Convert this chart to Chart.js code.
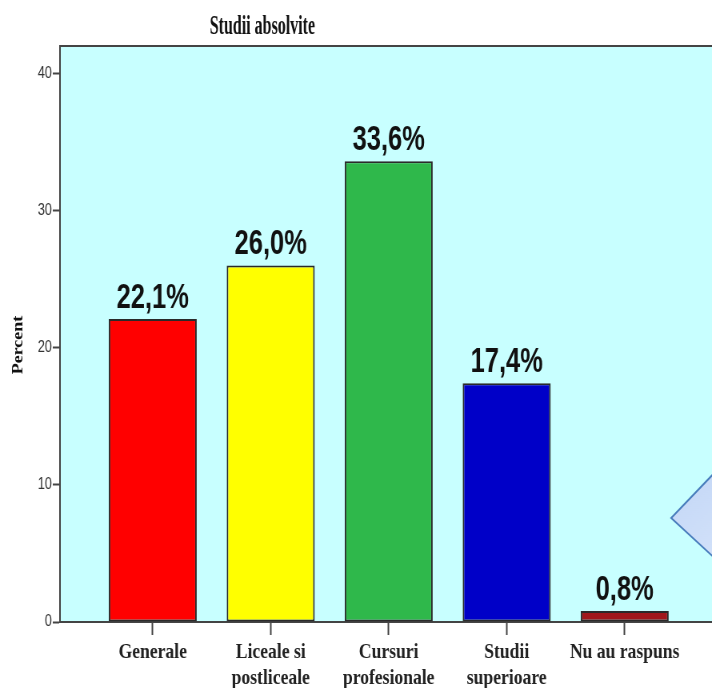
<!DOCTYPE html>
<html>
<head>
<meta charset="utf-8">
<script src="https://cdn.jsdelivr.net/npm/chart.js@4"></script>
<style>
  html, body { margin: 0; padding: 0; background: #fff; overflow: hidden; }
  #chart { display: block; }
</style>
</head>
<body>
<!-- the source picture is squeezed sideways, so the canvas is drawn wider and shown at 712px -->
<canvas id="chart" width="890" height="688" style="width:712px;height:688px"></canvas>
<script>
// data
const categories = [
  "Generale",
  ["Liceale si", "postliceale"],
  ["Cursuri", "profesionale"],
  ["Studii", "superioare"],
  "Nu au raspuns",
];
const percents = [22.1, 26.0, 33.6, 17.4, 0.8];
const barColors = ["#ff0000", "#ffff00", "#2fb84b", "#0000c8", "#a0171b"];
const yTicks = [0, 10, 20, 30, 40];

// background of plot, top line, titles, value labels and the blue shape
const extras = {
  id: "extras",
  beforeDraw(chart) {
    const { ctx, chartArea: a } = chart;
    ctx.save();
    ctx.fillStyle = "#c8ffff";
    ctx.fillRect(a.left, a.top, a.right - a.left, a.bottom - a.top);
    ctx.strokeStyle = "#444";
    ctx.lineWidth = 2;
    ctx.beginPath();
    ctx.moveTo(a.left, a.top);
    ctx.lineTo(a.right, a.top);
    ctx.stroke();
    ctx.restore();
  },
  afterDraw(chart) {
    const { ctx } = chart;
    ctx.save();

    // title
    ctx.fillStyle = "#111";
    ctx.font = "bold 27px 'Liberation Serif', 'Times New Roman', serif";
    ctx.textAlign = "center";
    ctx.textBaseline = "alphabetic";
    ctx.save();
    ctx.translate(328, 34);
    ctx.scale(0.74, 1);
    ctx.fillText("Studii absolvite", 0, 0);
    ctx.restore();

    // y axis title
    ctx.save();
    ctx.font = "bold 18px 'Liberation Serif', 'Times New Roman', serif";
    ctx.translate(23, 345);
    ctx.rotate(-Math.PI / 2);
    ctx.textBaseline = "middle";
    ctx.fillText("Percent", 0, 0);
    ctx.restore();

    // value labels
    const meta = chart.getDatasetMeta(0);
    ctx.font = "bold 35px 'Liberation Sans', Arial, sans-serif";
    meta.data.forEach((bar, i) => {
      const txt = percents[i].toFixed(1).replace(".", ",") + "%";
      ctx.save();
      ctx.translate(bar.x, bar.y - 11);
      ctx.scale(0.91, 1);
      ctx.fillText(txt, 0, 0);
      ctx.restore();
    });

    // the blue diamond shape at the right edge
    const grad = ctx.createLinearGradient(839, 470, 900, 560);
    grad.addColorStop(0, "#c2d6f6");
    grad.addColorStop(1, "#d3e2fa");
    ctx.fillStyle = grad;
    ctx.strokeStyle = "#4a7ebd";
    ctx.lineWidth = 2;
    ctx.beginPath();
    ctx.moveTo(839, 518);
    ctx.lineTo(900, 467);
    ctx.lineTo(900, 563);
    ctx.closePath();
    ctx.fill();
    ctx.stroke();

    ctx.restore();
  },
};

new Chart(document.getElementById("chart"), {
  type: "bar",
  data: {
    datasets: [
      {
        data: percents.map((v, i) => ({ x: i, y: v })),
        backgroundColor: barColors,
        borderColor: "#2a2a2a",
        borderWidth: 2,
        borderSkipped: false,
        barPercentage: 0.746,
        categoryPercentage: 1,
      },
    ],
  },
  options: {
    responsive: false,
    animation: false,
    devicePixelRatio: 1,
    layout: { padding: { top: 46, left: 0, right: 0, bottom: 0 } },
    plugins: {
      legend: { display: false },
      tooltip: { enabled: false },
    },
    scales: {
      x: {
        type: "linear",
        offset: false,
        min: -0.786,
        max: 4.74,
        afterBuildTicks: (scale) => {
          scale.ticks = categories.map((c, i) => ({ value: i }));
        },
        afterFit: (scale) => {
          scale.height = 66;
        },
        grid: {
          offset: false,
          drawOnChartArea: false,
          tickLength: 13,
          tickWidth: 2,
          tickColor: "#444",
        },
        border: { color: "#444", width: 2 },
        ticks: {
          autoSkip: false,
          maxRotation: 0,
          padding: 4,
          color: "#222",
          font: { family: "'Liberation Serif', 'Times New Roman', serif", size: 22, weight: "bold", lineHeight: 1.2 },
          callback: (value) => categories[value],
        },
      },
      y: {
        min: 0,
        max: 42,
        afterBuildTicks: (scale) => {
          scale.ticks = yTicks.map((v) => ({ value: v }));
        },
        afterFit: (scale) => {
          scale.width = 75;
        },
        grid: {
          drawOnChartArea: false,
          tickLength: 9,
          tickWidth: 2,
          tickColor: "#444",
        },
        border: { color: "#444", width: 2 },
        ticks: {
          padding: 1,
          color: "#333",
          font: { family: "'Liberation Sans', Arial, sans-serif", size: 16 },
        },
      },
    },
  },
  plugins: [extras],
});
</script>
</body>
</html>
